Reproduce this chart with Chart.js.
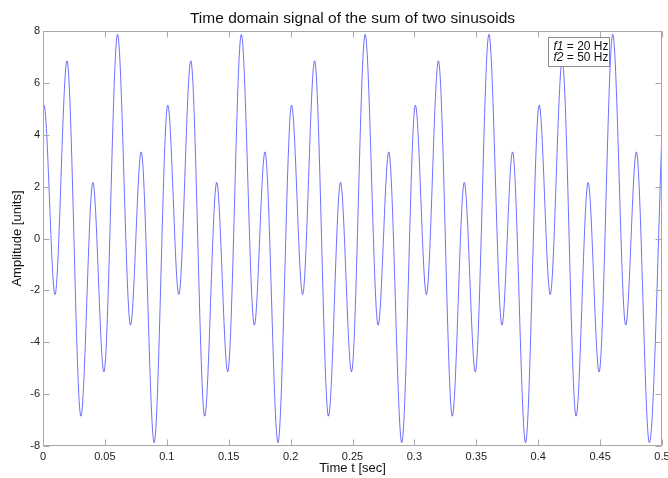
<!DOCTYPE html>
<html>
<head>
<meta charset="utf-8">
<title>Time domain signal of the sum of two sinusoids</title>
<script src="https://cdn.jsdelivr.net/npm/chart.js@4.4.1/dist/chart.umd.min.js"></script>
<style>
  html, body { margin: 0; padding: 0; background: #fff; }
  #chart { display: block; }
</style>
</head>
<body>
<canvas id="chart" width="668" height="478"></canvas>
<script>
// peaks and troughs of the curve (one before 0 and one after 0.5 so it runs off the edges)
const timeSec = [
  -0.0102,
  0.0008, 0.0097, 0.0194, 0.0306, 0.0403, 0.0492, 0.0602, 0.0707, 0.0793, 0.0898,
  0.1008, 0.1097, 0.1194, 0.1306, 0.1403, 0.1492, 0.1602, 0.1707, 0.1793, 0.1898,
  0.2008, 0.2097, 0.2194, 0.2306, 0.2403, 0.2492, 0.2602, 0.2707, 0.2793, 0.2898,
  0.3008, 0.3097, 0.3194, 0.3306, 0.3403, 0.3492, 0.3602, 0.3707, 0.3793, 0.3898,
  0.4008, 0.4097, 0.4194, 0.4306, 0.4403, 0.4492, 0.4602, 0.4707, 0.4793, 0.4898,
  0.5008
];
const amplitude = [
  -7.87,
  5.14, -2.16, 6.85, -6.85, 2.16, -5.14, 7.87, -3.34, 3.34, -7.87,
  5.14, -2.16, 6.85, -6.85, 2.16, -5.14, 7.87, -3.34, 3.34, -7.87,
  5.14, -2.16, 6.85, -6.85, 2.16, -5.14, 7.87, -3.34, 3.34, -7.87,
  5.14, -2.16, 6.85, -6.85, 2.16, -5.14, 7.87, -3.34, 3.34, -7.87,
  5.14, -2.16, 6.85, -6.85, 2.16, -5.14, 7.87, -3.34, 3.34, -7.87,
  5.14
];

const xTickValues = [0, 0.05, 0.1, 0.15, 0.2, 0.25, 0.3, 0.35, 0.4, 0.45, 0.5];
const xTickLabels = ['0', '0.05', '0.1', '0.15', '0.2', '0.25', '0.3', '0.35', '0.4', '0.45', '0.5'];
const yTickValues = [-8, -6, -4, -2, 0, 2, 4, 6, 8];
const yTickLabels = ['-8', '-6', '-4', '-2', '0', '2', '4', '6', '8'];

const legendNames = ['f1', 'f2'];
const legendFreqs = ['20 Hz', '50 Hz'];

const chartTitle = 'Time domain signal of the sum of two sinusoids';

const FONT = 'Arial, "Liberation Sans", Helvetica, sans-serif';
const AXIS_GRAY = '#a8a8a8';

// matlab style box: frame, inward ticks on all four sides, title over the plot and the f1/f2 text box
const matlabBox = {
  id: 'matlabBox',
  afterDatasetsDraw(chart) {
    const { ctx, chartArea: a, scales: { x, y } } = chart;
    const left = Math.round(a.left) + 0.5;
    const right = Math.round(a.right) - 0.5;
    const top = Math.round(a.top) + 0.5;
    const bottom = Math.round(a.bottom) - 0.5;
    const tick = 6;

    ctx.save();
    ctx.strokeStyle = AXIS_GRAY;
    ctx.lineWidth = 1;
    ctx.beginPath();
    x.ticks.forEach(t => {
      const px = Math.round(x.getPixelForValue(t.value)) + 0.5;
      ctx.moveTo(px, bottom); ctx.lineTo(px, bottom - tick);
      ctx.moveTo(px, top); ctx.lineTo(px, top + tick);
    });
    y.ticks.forEach(t => {
      const py = Math.round(y.getPixelForValue(t.value)) + 0.5;
      ctx.moveTo(left, py); ctx.lineTo(left + tick, py);
      ctx.moveTo(right, py); ctx.lineTo(right - tick, py);
    });
    ctx.stroke();
    ctx.strokeRect(left, top, right - left, bottom - top);

    // title, centred over the plot box like matlab does
    ctx.fillStyle = '#111';
    ctx.textAlign = 'center';
    ctx.textBaseline = 'middle';
    ctx.font = '15.5px ' + FONT;
    ctx.fillText(chartTitle, (a.left + a.right) / 2, a.top - 12.5);

    // legend box in the top right corner
    const bx = Math.round(a.right) - 113.5;
    const by = Math.round(a.top) + 6.5;
    const bw = 61, bh = 29;
    ctx.fillStyle = '#fff';
    ctx.fillRect(bx, by, bw, bh);
    ctx.strokeStyle = '#8c8c8c';
    ctx.strokeRect(bx, by, bw, bh);
    ctx.fillStyle = '#111';
    ctx.textAlign = 'left';
    legendNames.forEach((name, i) => {
      const ty = by + 9 + i * 11;
      ctx.font = 'italic 12px ' + FONT;
      ctx.fillText(name, bx + 5, ty);
      const w = ctx.measureText(name).width;
      ctx.font = '12px ' + FONT;
      ctx.fillText(' = ' + legendFreqs[i], bx + 5 + w, ty);
    });
    ctx.restore();
  }
};

const points = timeSec.map((t, i) => ({ x: t, y: amplitude[i] }));

new Chart(document.getElementById('chart').getContext('2d'), {
  type: 'line',
  data: {
    datasets: [{
      data: points,
      borderColor: 'rgba(40, 40, 255, 0.75)',
      borderWidth: 0.9,
      pointRadius: 0,
      cubicInterpolationMode: 'monotone',
      fill: false
    }]
  },
  options: {
    responsive: false,
    animation: false,
    layout: { padding: { left: 0, right: 6, top: 31, bottom: 0 } },
    plugins: {
      legend: { display: false },
      tooltip: { enabled: false },
      title: { display: false }
    },
    scales: {
      x: {
        type: 'linear',
        min: 0,
        max: 0.5,
        grid: { display: false, drawTicks: false },
        border: { display: false },
        afterBuildTicks: (scale) => { scale.ticks = xTickValues.map(v => ({ value: v })); },
        afterFit: (scale) => { scale.height = 32; scale.paddingLeft = 0; scale.paddingRight = 0; },
        ticks: {
          color: '#222',
          padding: 4,
          maxRotation: 0,
          autoSkip: false,
          font: { family: FONT, size: 11 },
          callback: (value, index) => xTickLabels[index]
        },
        title: {
          display: true,
          text: 'Time t [sec]',
          color: '#111',
          font: { family: FONT, size: 13 },
          padding: { top: 0, bottom: 2 }
        }
      },
      y: {
        type: 'linear',
        min: -8,
        max: 8,
        grid: { display: false, drawTicks: false },
        border: { display: false },
        afterBuildTicks: (scale) => { scale.ticks = yTickValues.map(v => ({ value: v })); },
        afterFit: (scale) => { scale.width = 43; scale.paddingTop = 0; scale.paddingBottom = 0; },
        ticks: {
          color: '#222',
          padding: 3,
          autoSkip: false,
          font: { family: FONT, size: 11 },
          callback: (value, index) => yTickLabels[index]
        },
        title: {
          display: true,
          text: 'Amplitude [units]',
          color: '#111',
          font: { family: FONT, size: 13 },
          padding: { top: 10, bottom: 0 }
        }
      }
    }
  },
  plugins: [matlabBox]
});
</script>
</body>
</html>
